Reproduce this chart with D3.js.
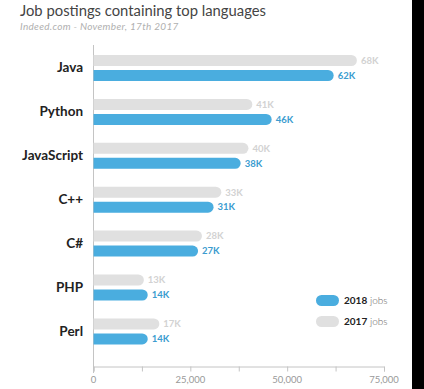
<!DOCTYPE html>
<html>
<head>
<meta charset="utf-8">
<style>
  body { margin: 0; background: #fff; }
  svg { display: block; font-family: Lato, "Open Sans", sans-serif; }
</style>
</head>
<body>
<svg id="chart" width="424" height="389"></svg>
<script src="https://d3js.org/d3.v7.min.js"></script>
<script>

var languages = ["Java", "Python", "JavaScript", "C++", "C#", "PHP", "Perl"];
var jobs2017 = [68000, 41000, 40000, 33000, 28000, 13000, 17000];
var jobs2018 = [62000, 46000, 38000, 31000, 27000, 14000, 14000];
var years = ["2017", "2018"];
var xTicks = [0, 25000, 50000, 75000];

var colors = { "2017": "#e0e0e0", "2018": "#4aaddf" };
var labelColors = { "2017": "#d2d2d2", "2018": "#3b9ccf" };

var svg = d3.select("#chart");

var x = d3.scaleLinear().domain([0, 75000]).range([93.5, 384]);
var y = d3.scaleBand().domain(languages).range([55, 344.4]).paddingInner(0.408).paddingOuter(0);
var yy = d3.scaleBand().domain(years).range([0, y.bandwidth()]).paddingInner(0.267);

// title
svg.append("text")
  .attr("x", 20).attr("y", 16)
  .attr("font-size", 14.8).attr("fill", "#444")
  .text("Job postings containing top languages");
svg.append("text")
  .attr("x", 20).attr("y", 30)
  .attr("font-size", 10).attr("font-style", "italic").attr("fill", "#b0b0b0")
  .attr("letter-spacing", 0.3)
  .text("Indeed.com - November, 17th 2017");

// y axis line
svg.append("line")
  .attr("x1", x(0)).attr("x2", x(0))
  .attr("y1", 45).attr("y2", 373)
  .attr("stroke", "#c4c4c4").attr("stroke-width", 1);

// x axis
var xAxis = svg.append("g")
  .attr("transform", "translate(0,366.5)")
  .call(d3.axisBottom(x).tickValues(d3.range(0, 75001, 12500)).tickSize(5).tickFormat(""));
xAxis.select(".domain").attr("stroke", "#c4c4c4");
xAxis.selectAll(".tick line").attr("stroke", "#c4c4c4");

svg.append("g").selectAll("text")
  .data(xTicks)
  .join("text")
  .attr("x", function(d) { return x(d); })
  .attr("y", 383)
  .attr("text-anchor", "middle")
  .attr("font-size", 9.5).attr("fill", "#999")
  .text(function(d) { return d3.format(",")(d); });

// category labels
svg.append("g").selectAll("text")
  .data(languages)
  .join("text")
  .attr("x", 83)
  .attr("y", function(d) { return y(d) + y.bandwidth() / 2 + 4.5; })
  .attr("text-anchor", "end")
  .attr("font-size", 13.5).attr("font-weight", "bold").attr("fill", "#222")
  .text(function(d) { return d; });

function pill(x0, x1, top, h) {
  var r = h / 2;
  return "M" + x0 + "," + top + "H" + (x1 - r) +
    "A" + r + "," + r + " 0 0 1 " + (x1 - r) + "," + (top + h) +
    "H" + x0 + "Z";
}

var rows = [];
languages.forEach(function(lang, i) {
  rows.push({ lang: lang, year: "2017", value: jobs2017[i] });
  rows.push({ lang: lang, year: "2018", value: jobs2018[i] });
});

var bars = svg.append("g");
bars.selectAll("path")
  .data(rows)
  .join("path")
  .attr("d", function(d) {
    return pill(x(0), x(d.value), y(d.lang) + yy(d.year), yy.bandwidth());
  })
  .attr("fill", function(d) { return colors[d.year]; });

bars.selectAll("text")
  .data(rows)
  .join("text")
  .attr("x", function(d) { return x(d.value) + 4; })
  .attr("y", function(d) { return y(d.lang) + yy(d.year) + yy.bandwidth() / 2 + 3.3; })
  .attr("font-size", 9.5).attr("font-weight", "bold")
  .attr("fill", function(d) { return labelColors[d.year]; })
  .text(function(d) { return Math.round(d.value / 1000) + "K"; });

// legend
var legend = svg.append("g").selectAll("g")
  .data(["2018", "2017"])
  .join("g")
  .attr("transform", function(d, i) { return "translate(316," + (295 + i * 21) + ")"; });
legend.append("rect")
  .attr("width", 23).attr("height", 11).attr("rx", 5.5)
  .attr("fill", function(d) { return colors[d]; });
var lt = legend.append("text")
  .attr("x", 28).attr("y", 9)
  .attr("font-size", 10).attr("fill", "#222");
lt.append("tspan").attr("font-weight", "bold").text(function(d) { return d; });
lt.append("tspan").attr("fill", "#666").attr("font-weight", 300).text(" jobs");

// dark right edge
svg.append("rect")
  .attr("x", 412).attr("y", 0).attr("width", 12).attr("height", 389)
  .attr("fill", "#000");

</script>
</body>
</html>
